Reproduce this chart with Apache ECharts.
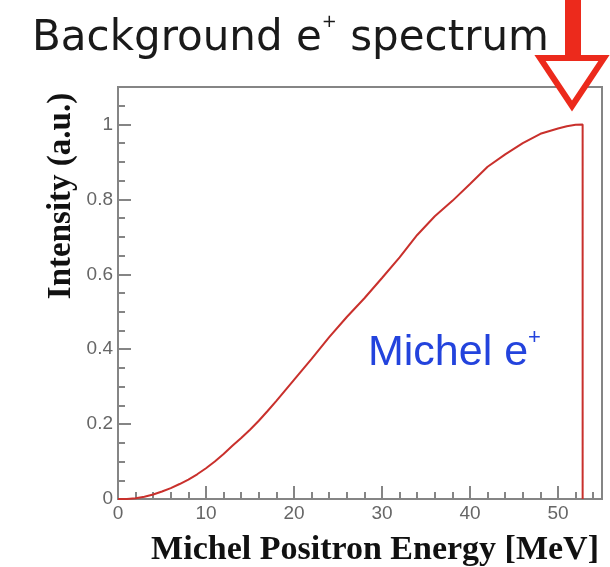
<!DOCTYPE html>
<html>
<head>
<meta charset="utf-8">
<script src="https://cdn.jsdelivr.net/npm/echarts@6/dist/echarts.min.js"></script>
<style>html,body{margin:0;padding:0;background:#fff}#c{width:610px;height:567px}</style>
</head>
<body>
<div id="c"></div>
<script>
const energy = [0,1,2,3,4,5,6,7,8,9,10,11,12,13,14,15,16,17,18,19,20,22,24,26,28,30,32,34,36,38,40,42,44,46,48,50,51,52,52.8,52.8];
const intensity = [0,0,0.002,0.006,0.012,0.02,0.029,0.04,0.052,0.066,0.082,0.1,0.12,0.142,0.163,0.185,0.209,0.235,0.262,0.29,0.318,0.374,0.432,0.486,0.536,0.59,0.645,0.705,0.755,0.796,0.841,0.887,0.92,0.95,0.975,0.989,0.995,0.999,1.0,0];
const xTicks = {min: 0, max: 55, interval: 10};
const yTicks = {min: 0, max: 1.1, interval: 0.2};

const chart = echarts.init(document.getElementById('c'), null, {renderer: 'canvas'});
const axisGray = '#858585';
const labelGray = '#666';
chart.setOption({
  animation: false,
  backgroundColor: '#fff',
  title: [
    {
      left: 27, top: 8,
      text: '{a|Background e}{s|+}{a| spectrum}',
      textStyle: {
        fontWeight: 'normal',
        rich: {
          a: {fontFamily: 'DejaVu Sans', fontWeight: 'normal', fontSize: 42, color: '#1a1a1a', lineHeight: 52},
          s: {fontFamily: 'DejaVu Sans', fontWeight: 'normal', fontSize: 18, color: '#1a1a1a', verticalAlign: 'top', lineHeight: 32}
        }
      }
    },
    {
      left: 363, top: 322,
      text: '{a|Michel e}{s|+}',
      textStyle: {
        fontWeight: 'normal',
        rich: {
          a: {fontFamily: 'Liberation Sans', fontWeight: 'normal', fontSize: 43, color: '#2343dd', lineHeight: 52},
          s: {fontFamily: 'Liberation Sans', fontWeight: 'normal', fontSize: 22, color: '#2343dd', verticalAlign: 'top', lineHeight: 32}
        }
      }
    },
    {
      right: 6, top: 528,
      text: 'Michel Positron Energy [MeV]',
      textStyle: {fontFamily: 'Liberation Serif', fontWeight: 'bold', fontSize: 34, color: '#111'}
    }
  ],
  grid: {left: 118, right: 8, top: 87, bottom: 68, show: true, borderColor: axisGray, borderWidth: 2, backgroundColor: 'transparent'},
  xAxis: {
    type: 'value', min: xTicks.min, max: xTicks.max, interval: xTicks.interval,
    axisLine: {lineStyle: {color: axisGray, width: 2}},
    axisTick: {inside: true, length: 13, lineStyle: {color: axisGray, width: 2}},
    minorTick: {show: true, splitNumber: 5, length: 7, lineStyle: {color: axisGray, width: 2}},
    splitLine: {show: false},
    axisLabel: {showMaxLabel: false, margin: 5, color: labelGray, fontFamily: 'Liberation Sans', fontSize: 19}
  },
  yAxis: {
    type: 'value', min: yTicks.min, max: yTicks.max, interval: yTicks.interval,
    axisLine: {lineStyle: {color: axisGray, width: 2}},
    axisTick: {inside: true, length: 13, lineStyle: {color: axisGray, width: 2}},
    minorTick: {show: true, splitNumber: 4, length: 7, lineStyle: {color: axisGray, width: 2}},
    splitLine: {show: false},
    axisLabel: {showMaxLabel: false, margin: 5, color: labelGray, fontFamily: 'Liberation Sans', fontSize: 19,
      formatter: v => String(Math.round(v * 10) / 10)}
  },
  series: [{
    type: 'line',
    data: energy.map((e, i) => [e, intensity[i]]),
    showSymbol: false,
    lineStyle: {color: '#c9302c', width: 2},
    z: 3
  }],
  graphic: [
    {
      type: 'text', x: 61, y: 196, rotation: Math.PI / 2,
      style: {text: 'Intensity (a.u.)', font: 'bold 33px "Liberation Serif"', fill: '#111', align: 'center', verticalAlign: 'middle'}
    },
    {type: 'rect', shape: {x: 565, y: 0, width: 16, height: 58}, style: {fill: '#ec2a1c'}, z: 10},
    {type: 'polygon', shape: {points: [[540, 58], [604, 58], [572, 106]]}, style: {fill: '#fff', stroke: '#ec2a1c', lineWidth: 6, lineJoin: 'miter'}, z: 10}
  ]
});
</script>
</body>
</html>
